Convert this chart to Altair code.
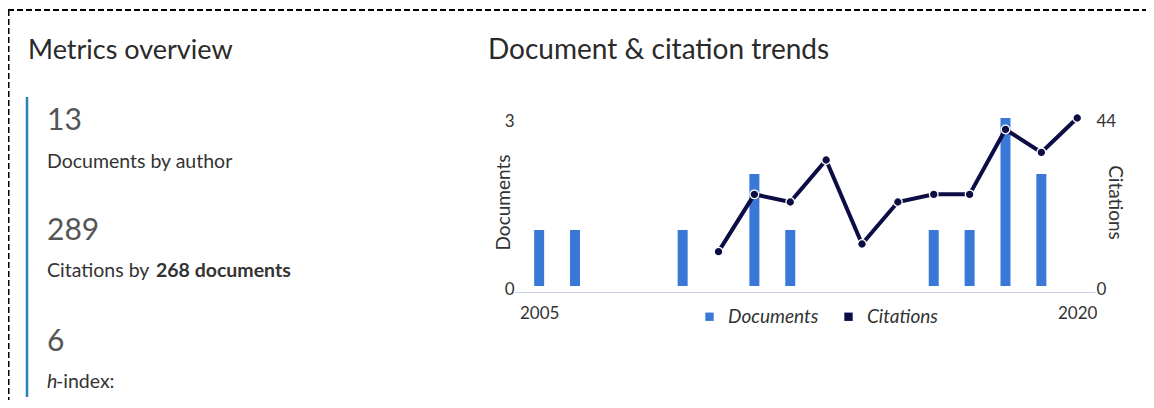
import altair as alt
import pandas as pd

# ---- data ----
years = list(range(2005, 2021))
documents = [1, 1, 0, 0, 1, 0, 2, 1, 0, 0, 0, 1, 1, 3, 2, 0]
citations = [None, None, None, None, None, 9, 24, 22, 33, 11, 22, 24, 24, 41, 35, 44]
series_names = ["Documents", "Citations"]
series_colors = ["#3a78d8", "#0d0d45"]
doc_ticks = [0, 3]
cit_ticks = [0, 44]
year_ticks = [2005, 2020]

metric_values = ["13", "289", "6"]
metric_labels = ["Documents by author", "Citations by ", "268 documents", "h", "-index:"]

df = pd.DataFrame({"year": years, "docs": documents, "citations": citations})

FONT = "Lato"
W, H = 580, 168

x_enc = alt.X(
    "year:Q",
    scale=alt.Scale(domain=[2004.466, 2020.356], nice=False, zero=False),
    axis=alt.Axis(
        values=year_ticks, format="d", title=None, ticks=False, grid=False,
        domainColor="#c9d1e0", domainWidth=1.2, offset=6,
        labelFontSize=17, labelColor="#333333", labelPadding=13, labelFont=FONT,
    ),
)

color_enc = alt.Color(
    "series:N",
    scale=alt.Scale(domain=series_names, range=series_colors),
    legend=alt.Legend(
        title=None, orient="none", legendX=185, legendY=189, direction="horizontal",
        symbolType="square", symbolSize=70, symbolStrokeWidth=0,
        labelFontSize=19, labelFontStyle="italic", labelColor="#333333", labelFont=FONT,
        labelOffset=9, columnPadding=20, padding=0,
    ),
)

left_axis = alt.Axis(
    values=doc_ticks, title="Documents", grid=False, ticks=False, domain=False,
    labelPadding=1, labelOffset=3, labelFontSize=17, labelColor="#333333", labelFont=FONT,
    titleFontSize=19, titleFontWeight="normal", titleColor="#333333", titleFont=FONT,
    titleAngle=270, titleX=-12, titleY=84, titleBaseline="middle", titleAlign="center",
)
right_axis = alt.Axis(
    values=cit_ticks, title="Citations", grid=False, ticks=False, domain=False, orient="right",
    labelPadding=1, labelOffset=3, labelFontSize=17, labelColor="#333333", labelFont=FONT,
    titleFontSize=19, titleFontWeight="normal", titleColor="#333333", titleFont=FONT,
    titleAngle=90, titleX=19, titleY=84, titleBaseline="middle", titleAlign="center",
)

base = alt.Chart(df)

bars = base.transform_filter("datum.docs > 0").transform_calculate(series="'Documents'").mark_bar(size=10).encode(
    x=x_enc,
    y=alt.Y("docs:Q", scale=alt.Scale(domain=[0, 3], nice=False), axis=left_axis),
    color=color_enc,
)

cit_y = alt.Y("citations:Q", scale=alt.Scale(domain=[0, 44], nice=False), axis=right_axis)
line = base.transform_filter("datum.citations != null").mark_line(
    color=series_colors[1], strokeWidth=4
).encode(x=x_enc, y=cit_y)
points = base.transform_filter("datum.citations != null").transform_calculate(series="'Citations'").mark_point(
    filled=True, size=75, stroke="white", strokeWidth=1.3, opacity=1
).encode(x=x_enc, y=cit_y, color=color_enc)

cit_layer = alt.layer(line, points)
plot = alt.layer(bars, cit_layer).resolve_scale(y="independent")

one = pd.DataFrame({"k": [0]})


def txt(text, x, y, size, color="#333333", weight="normal", style="normal"):
    return alt.Chart(one).mark_text(
        text=text, align="left", baseline="alphabetic", fontSize=size, color=color,
        fontWeight=weight, fontStyle=style, font=FONT,
    ).encode(x=alt.value(x), y=alt.value(y))


top_border = alt.Chart(one).mark_rule(color="#000000", strokeWidth=2, strokeDash=[6, 3]).encode(
    x=alt.value(-507), x2=alt.value(640), y=alt.value(-108)
)
left_border = alt.Chart(one).mark_rule(color="#000000", strokeWidth=2, strokeDash=[6, 3]).encode(
    x=alt.value(-506.5), y=alt.value(-108), y2=alt.value(290)
)
accent = alt.Chart(one).mark_rule(color="#2b80b6", strokeWidth=2.5).encode(
    x=alt.value(-488), y=alt.value(-21), y2=alt.value(279)
)

annotations = [
    top_border, left_border, accent,
    txt("Metrics overview", -487, -59, 27, color="#2a2a2a"),
    txt("Document & citation trends", -27, -59, 28, color="#2a2a2a"),
    txt(metric_values[0], -468, 12, 30, color="#555555"),
    txt(metric_labels[0], -468, 50, 19.5),
    txt(metric_values[1], -468, 122, 30, color="#555555"),
    txt(metric_labels[1], -468, 159, 19.5),
    txt(metric_labels[2], -359, 159, 19.5, weight="bold"),
    txt(metric_values[2], -468, 233, 30, color="#555555"),
    txt(metric_labels[3], -468, 270, 19.5, style="italic"),
    txt(metric_labels[4], -459, 270, 19.5),
]

chart = alt.layer(plot, *annotations).properties(
    width=W, height=H,
    autosize=alt.AutoSizeParams(type="none"),
    padding={"left": 507, "top": 110, "right": 51, "bottom": 114},
    background="white",
).configure(font=FONT).configure_view(stroke="transparent", strokeWidth=0)

chart.save("out.html", embed_options={"renderer": "svg", "actions": False})
